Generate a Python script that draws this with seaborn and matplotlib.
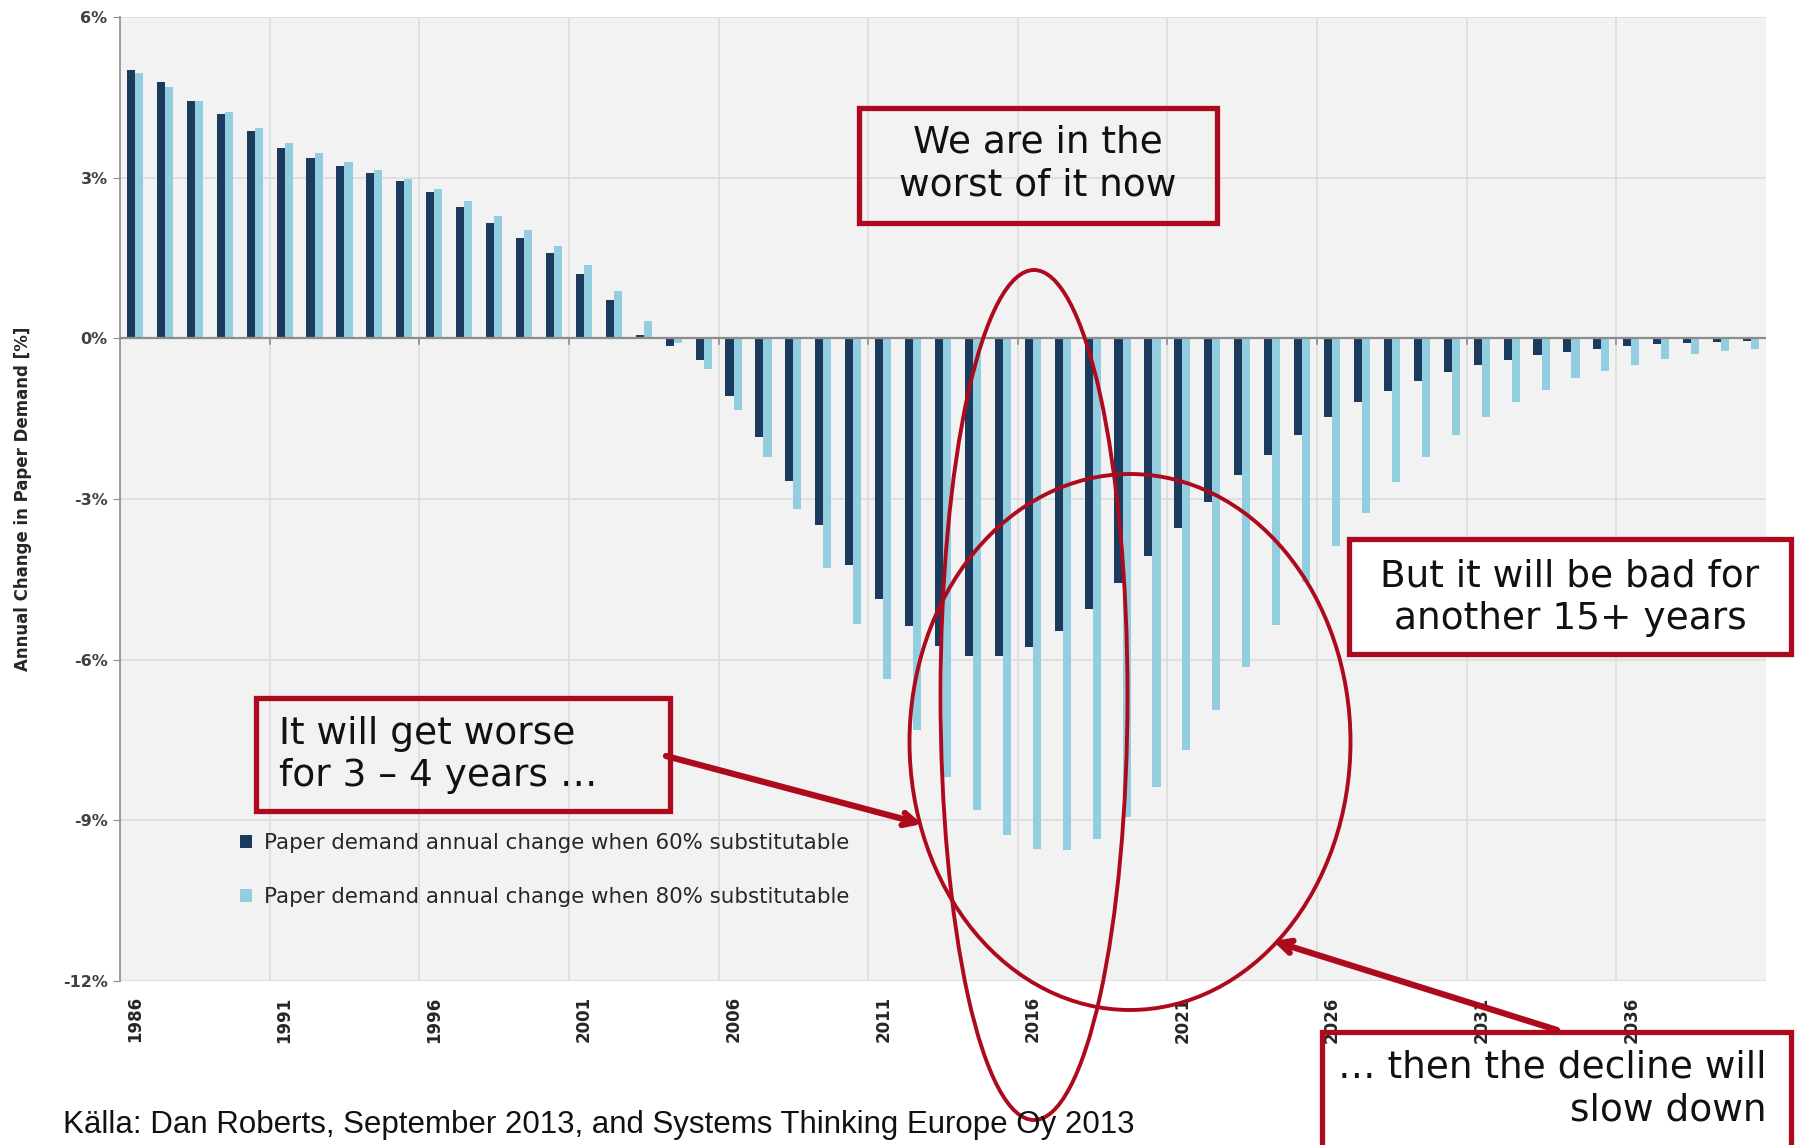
import matplotlib
matplotlib.use("Agg")
import matplotlib.pyplot as plt
from matplotlib.patches import Ellipse, Rectangle
import numpy as np
import pandas as pd
import seaborn as sns

# ---- data ----
years = list(range(1986, 2041))
sub60 = [5.01, 4.78, 4.44, 4.18, 3.87, 3.55, 3.36, 3.22, 3.09, 2.94,
         2.73, 2.46, 2.16, 1.87, 1.59, 1.21, 0.71, 0.07, -0.14, -0.41,
         -1.08, -1.84, -2.66, -3.48, -4.24, -4.86, -5.38, -5.75, -5.94, -5.94,
         -5.77, -5.46, -5.05, -4.57, -4.06, -3.54, -3.05, -2.56, -2.18, -1.80,
         -1.47, -1.19, -0.98, -0.80, -0.63, -0.50, -0.41, -0.31, -0.26, -0.19,
         -0.15, -0.11, -0.09, -0.07, -0.05]
sub80 = [4.96, 4.70, 4.44, 4.22, 3.93, 3.64, 3.46, 3.29, 3.15, 2.98,
         2.78, 2.56, 2.29, 2.03, 1.72, 1.36, 0.88, 0.32, -0.08, -0.57,
         -1.33, -2.21, -3.19, -4.28, -5.34, -6.36, -7.32, -8.19, -8.80, -9.28,
         -9.54, -9.56, -9.34, -8.94, -8.38, -7.69, -6.94, -6.14, -5.36, -4.55,
         -3.88, -3.26, -2.69, -2.22, -1.81, -1.47, -1.18, -0.96, -0.75, -0.61,
         -0.49, -0.39, -0.30, -0.24, -0.19]
series_names = ['Paper demand annual change when 60% substitutable',
                'Paper demand annual change when 80% substitutable']
yticks = [-12, -9, -6, -3, 0, 3, 6]
source = 'Källa: Dan Roberts, September 2013, and Systems Thinking Europe Oy 2013'

DARK = '#1a3a5e'
LIGHT = '#92cee0'
RED = '#ae0a1e'
BG = '#f2f2f2'
GRID = '#dcdcdc'

df = pd.concat([
    pd.DataFrame({'year': years, 'change': sub60, 'series': series_names[0]}),
    pd.DataFrame({'year': years, 'change': sub80, 'series': series_names[1]}),
], ignore_index=True)

W, H = 1795, 1145
fig = plt.figure(figsize=(W / 100, H / 100), dpi=100)
ax = fig.add_axes([120 / W, 1 - 981 / H, 1646 / W, 964 / H])
ax.set_facecolor(BG)

sns.barplot(data=df, x='year', y='change', hue='series',
            palette=[DARK, LIGHT], width=0.54, linewidth=0,
            saturation=1, ax=ax)

ax.set_xlim(-0.5, len(years) - 0.5)
ax.set_ylim(-12, 6)
ax.set_yticks(yticks)
ax.set_yticklabels([f'{v}%' for v in yticks], fontsize=11.5, fontweight='bold',
                   color='#404040')
xt = list(range(0, len(years), 5))
ax.set_xticks(xt)
ax.set_xticklabels([str(years[i]) for i in xt], rotation=90, fontsize=12,
                   fontweight='bold', color='#262626', va='top')
ax.tick_params(axis='x', length=0, pad=11)
ax.tick_params(axis='y', length=5, color='#8c8c8c', pad=4)

# grid
for v in yticks:
    ax.axhline(v, color=GRID, lw=1.2, zorder=0)
for i in range(5, len(years), 5):
    ax.axvline(i - 0.5, color=GRID, lw=1.2, zorder=0)
    ax.plot([i - 0.5, i - 0.5], [0, -0.1], color='#8c8c8c', lw=1.2, zorder=3)
ax.axhline(0, color='#8c8c8c', lw=1.6, zorder=3)
for s in ['top', 'right', 'bottom']:
    ax.spines[s].set_visible(False)
ax.spines['left'].set_color('#8c8c8c')
ax.spines['left'].set_linewidth(1.2)

ax.set_xlabel('')
ax.set_ylabel('Annual Change in Paper Demand [%]', fontsize=12,
              fontweight='bold', color='#262626', labelpad=22)

handles, labels = ax.get_legend_handles_labels()
ax.legend(handles, labels, loc='center left', bbox_to_anchor=(0.073, 0.115),
          frameon=False, fontsize=15.4, labelspacing=1.6, handlelength=0.55,
          handleheight=0.55, handletextpad=0.55, borderpad=0, borderaxespad=0,
          labelcolor='#262626')

# ---- annotations ----
def ix(x):
    return (x - 120) / (1646 / 55) - 0.5

def iy(y):
    return 6 - (y - 17) / (964 / 18)

# ellipses (data coords)
ax.add_patch(Ellipse((ix(1034), iy(695)), 187 / (1646 / 55), 850 / (964 / 18),
                     fill=False, ec=RED, lw=2.8, clip_on=False, zorder=6))
ax.add_patch(Ellipse((ix(1130), iy(742)), 441 / (1646 / 55), 536 / (964 / 18),
                     fill=False, ec=RED, lw=2.8, clip_on=False, zorder=6))

arrow = dict(arrowstyle='->,head_length=0.9,head_width=0.45', color=RED, lw=4.5,
             shrinkA=0, shrinkB=0)
ax.annotate('', xy=(ix(922), iy(824)), xytext=(ix(666), iy(756)),
            arrowprops=arrow, annotation_clip=False, zorder=7)
ax.annotate('', xy=(ix(1273), iy(941)), xytext=(ix(1557), iy(1030)),
            arrowprops=arrow, annotation_clip=False, zorder=7)

def box(x0, y0, x1, y1, face='none'):
    fig.patches.append(Rectangle((x0 / W, 1 - y1 / H), (x1 - x0) / W, (y1 - y0) / H,
                                 transform=fig.transFigure, fc=face, ec=RED,
                                 lw=3.8, zorder=8))

def label(x, y, s, ha='center'):
    fig.text(x / W, 1 - y / H, s, ha=ha, va='center', fontsize=27,
             family='DejaVu Sans', color='#111111', linespacing=1.22, zorder=9)

box(859, 108, 1217, 223)
label(1038, 164, 'We are in the\nworst of it now')

box(1349, 539, 1791, 654, face='white')
label(1570, 598, 'But it will be bad for\nanother 15+ years')

box(256, 698, 670, 811)
label(279, 755, 'It will get worse\nfor 3 – 4 years …', ha='left')

box(1322, 1032, 1791, 1160)
label(1766, 1089, '… then the decline will\nslow down', ha='right')

fig.text(63 / W, 1 - 1110 / H, source, ha='left', va='top', fontsize=22.5,
         family='Liberation Sans', color='#111111')

fig.savefig('out.png', dpi=100, facecolor='white')
